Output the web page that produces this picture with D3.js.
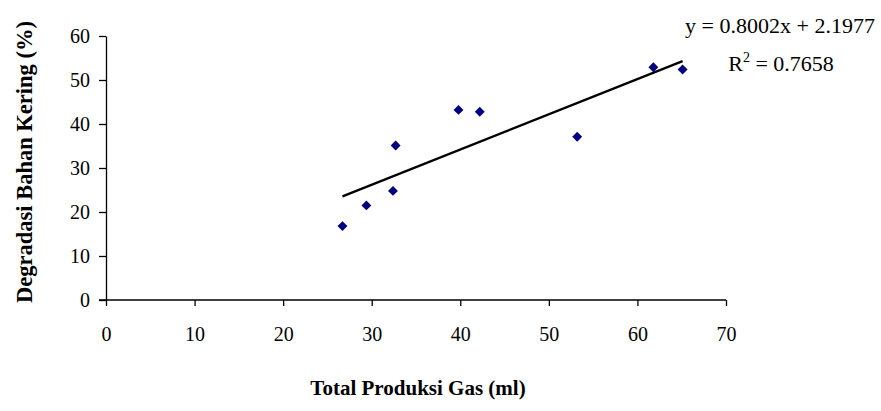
<!DOCTYPE html>
<html>
<head>
<meta charset="utf-8">
<script src="https://cdn.jsdelivr.net/npm/d3@7"></script>
<style>
  body { margin: 0; background: #fff; }
  text { font-family: "Liberation Serif", "Times New Roman", serif; }
</style>
</head>
<body>
<svg id="chart"></svg>
<script>
// data
const gasProduction = [26.7, 29.4, 32.4, 32.7, 39.8, 42.2, 53.2, 61.8, 65.1];
const dmDegradation = [16.8, 21.5, 24.8, 35.1, 43.2, 42.8, 37.1, 52.9, 52.4];
const xTicks = [0, 10, 20, 30, 40, 50, 60, 70];
const yTicks = [0, 10, 20, 30, 40, 50, 60];
const slope = 0.8002, intercept = 2.1977;
const equationLabel = "y = 0.8002x + 2.1977";

const width = 881, height = 411;
const margin = {top: 36, right: 155, bottom: 111, left: 106};

const svg = d3.select("#chart").attr("width", width).attr("height", height);

const x = d3.scaleLinear().domain([0, 70]).range([margin.left, width - margin.right]);
const y = d3.scaleLinear().domain([0, 60]).range([height - margin.bottom, margin.top]);

const xAxis = svg.append("g")
  .attr("transform", `translate(0,${y(0)})`)
  .call(d3.axisBottom(x).tickValues(xTicks).tickSize(6).tickPadding(21).tickSizeOuter(0));
const yAxis = svg.append("g")
  .attr("transform", `translate(${x(0)},0)`)
  .call(d3.axisLeft(y).tickValues(yTicks).tickSize(7).tickPadding(9).tickSizeOuter(0));

[xAxis, yAxis].forEach(g => {
  g.select(".domain").attr("stroke", "#000").attr("stroke-width", 1.3);
  g.selectAll(".tick line").attr("stroke", "#000").attr("stroke-width", 1.3);
  g.selectAll(".tick text").attr("fill", "#000")
    .attr("font-family", "Liberation Serif")
    .style("font-family", '"Liberation Serif", serif').style("font-size", "20px");
});
// x axis line starts a little left of the y axis, as in the original
xAxis.select(".domain").attr("d", `M${x(0) - 7},0H${x(70)}`);

// trendline over the data range
const x0 = d3.min(gasProduction), x1 = d3.max(gasProduction);
svg.append("line")
  .attr("x1", x(x0)).attr("y1", y(slope * x0 + intercept))
  .attr("x2", x(x1)).attr("y2", y(slope * x1 + intercept))
  .attr("stroke", "#000").attr("stroke-width", 2.3);

// points
svg.append("g").selectAll("path")
  .data(gasProduction)
  .join("path")
  .attr("d", d3.symbol(d3.symbolSquare, 49))
  .attr("transform", (d, i) => `translate(${x(d)},${y(dmDegradation[i])}) rotate(45)`)
  .attr("fill", "#000080");

// equation
svg.append("text")
  .attr("x", 780).attr("y", 33)
  .attr("text-anchor", "middle")
  .style("font-size", "22px")
  .text(equationLabel);
const r2 = svg.append("text")
  .attr("x", 781).attr("y", 71)
  .attr("text-anchor", "middle")
  .style("font-size", "22px");
r2.append("tspan").text("R");
r2.append("tspan").attr("dy", -9).style("font-size", "14px").text("2");
r2.append("tspan").attr("dy", 9).text(" = 0.7658");

// axis titles
svg.append("text")
  .attr("x", 418).attr("y", 395)
  .attr("text-anchor", "middle")
  .style("font-size", "21px").style("font-weight", "bold")
  .text("Total Produksi Gas (ml)");
svg.append("text")
  .attr("transform", `translate(32,${(y(0) + y(60)) / 2 - 6}) rotate(-90)`)
  .attr("text-anchor", "middle")
  .style("font-size", "22.5px").style("font-weight", "bold")
  .text("Degradasi Bahan Kering (%)");
</script>
</body>
</html>
